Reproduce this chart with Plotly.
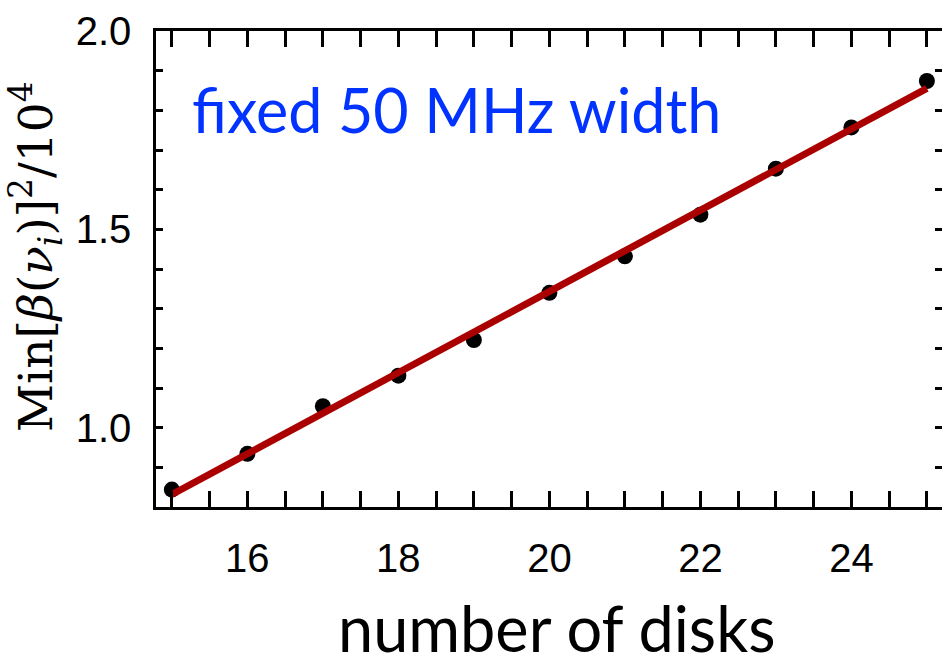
import numpy as np
import plotly.graph_objects as go

# number of disks and the minimum of beta^2 (in units of 10^4)
disks = [15, 16, 17, 18, 19, 20, 21, 22, 23, 24, 25]
min_beta_sq = [0.844, 0.934, 1.054, 1.131, 1.221, 1.340, 1.432, 1.537, 1.653, 1.757, 1.874]

# axis settings
x_range = [14.79, 25.2]
y_range = [0.8, 2.0]
y_tick_vals = [1.0, 1.5, 2.0]
y_tick_text = ["1.0", "1.5", "2.0"]

# straight-line fit through the points
slope, intercept = np.polyfit(disks, min_beta_sq, 1)
fit_x = [disks[0], disks[-1]]
fit_y = [slope * x + intercept for x in fit_x]

tick_font = dict(family="Liberation Sans, Arial", size=40, color="black")

fig = go.Figure()
fig.add_trace(go.Scatter(
    x=disks, y=min_beta_sq, mode="markers",
    marker=dict(color="black", size=16, line=dict(width=0)),
    showlegend=False, hoverinfo="x+y",
))
fig.add_trace(go.Scatter(
    x=fit_x, y=fit_y, mode="lines",
    line=dict(color="#aa0000", width=7),
    showlegend=False, hoverinfo="skip",
))
# transparent copy that carries the right-hand tick axis
fig.add_trace(go.Scatter(
    x=disks, y=min_beta_sq, mode="markers", yaxis="y2",
    marker=dict(opacity=0), showlegend=False, hoverinfo="skip",
))

fig.update_layout(
    width=942, height=661,
    margin=dict(l=156, r=0, t=31, b=154),
    plot_bgcolor="white", paper_bgcolor="white",
    xaxis=dict(
        range=x_range, showgrid=False, zeroline=False,
        showline=True, linecolor="black", linewidth=2.5, mirror="allticks",
        ticks="inside", tickmode="linear", tick0=0, dtick=2,
        ticklen=16, tickwidth=2.5, tickcolor="black",
        minor=dict(ticks="inside", tickmode="linear", tick0=0, dtick=0.5,
                   ticklen=8, tickwidth=2.5, tickcolor="black", showgrid=False),
        tickfont=tick_font, ticklabelstandoff=14,
    ),
    yaxis=dict(
        range=y_range, showgrid=False, zeroline=False,
        showline=True, linecolor="black", linewidth=2.5, mirror=False,
        ticks="inside", tickmode="array", tickvals=y_tick_vals, ticktext=y_tick_text,
        ticklen=7, tickwidth=2.5, tickcolor="black",
        minor=dict(ticks="inside", tickmode="linear", tick0=0, dtick=0.1,
                   ticklen=7, tickwidth=2.5, tickcolor="black", showgrid=False),
        tickfont=tick_font, ticklabelstandoff=14,
    ),
    yaxis2=dict(
        range=y_range, overlaying="y", side="right", anchor="x",
        showgrid=False, zeroline=False, showline=False, showticklabels=False,
        ticks="inside", tickmode="linear", tick0=0, dtick=0.1,
        ticklen=7, tickwidth=2.5, tickcolor="black",
    ),
    annotations=[
        dict(text="fixed 50 MHz width", xref="paper", yref="paper",
             x=(190 - 156) / 786, y=1 - (110 - 31) / 476,
             xanchor="left", yanchor="middle", showarrow=False,
             font=dict(family="Lato", size=61, color="#0033ff")),
        dict(text="number of disks", xref="paper", yref="paper",
             x=(556 - 156) / 786, y=1 - (627 - 31) / 476,
             xanchor="center", yanchor="middle", showarrow=False,
             font=dict(family="Lato", size=63, color="black")),
        dict(text="Min[<i>β</i>(<i>ν<sub>i</sub></i>)]<sup>2</sup>/10<sup>4</sup>",
             xref="paper", yref="paper",
             x=(35 - 156) / 786, y=1 - (257 - 31) / 476, textangle=-90,
             xanchor="center", yanchor="middle", showarrow=False,
             font=dict(family="DejaVu Serif", size=47, color="black")),
    ],
)

fig.write_html("out.html")
